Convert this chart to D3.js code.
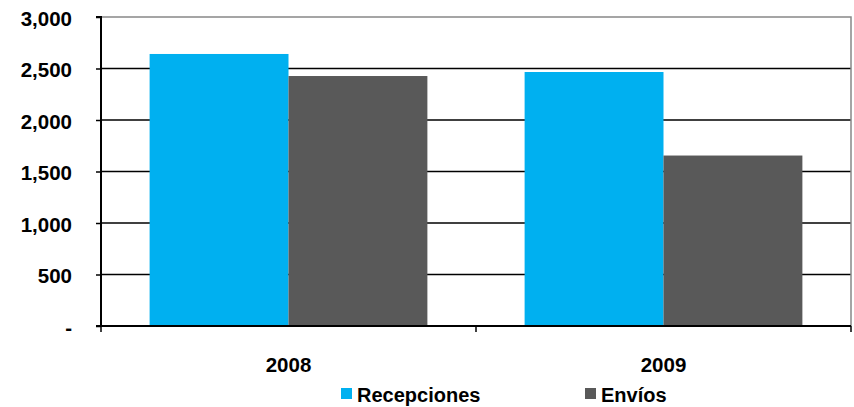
<!DOCTYPE html>
<html><head><meta charset="utf-8">
<script src="https://cdn.jsdelivr.net/npm/d3@7"></script>
<style>body{margin:0;background:#fff}svg text{font-family:"Liberation Sans",Arial,sans-serif;font-weight:bold;fill:#000}</style>
</head><body>
<svg id="c" width="854" height="407"></svg>
<script>
const categories = ["2008", "2009"];
const seriesNames = ["Recepciones", "Envíos"];
const recepciones = [2641, 2466];
const envios = [2427, 1655];
const yTicks = [0, 500, 1000, 1500, 2000, 2500, 3000];
const colors = ["#00B0F0", "#595959"];

const svg = d3.select("#c");
const L = 101, R = 851, T = 17, B = 326;
const x0 = d3.scaleBand().domain(categories).range([L, R]);
const x1 = d3.scaleBand().domain(seriesNames).range([0, x0.bandwidth()]).paddingOuter(0.35).paddingInner(0);
const y = d3.scaleLinear().domain([0, 3000]).range([B, T]);

// gridlines
svg.append("g").selectAll("line").data(yTicks.filter(d => d > 0 && d < 3000)).join("line")
  .attr("x1", L).attr("x2", R).attr("y1", d => y(d)).attr("y2", d => y(d))
  .attr("stroke", "#000").attr("stroke-width", 1.3);
// plot border top/right
svg.append("path").attr("d", `M${L},${y(3000)}H${R}V${B}`).attr("fill", "none").attr("stroke", "#888").attr("stroke-width", 1.5);

const data = categories.map((c, i) => ({c, vals: [recepciones[i], envios[i]]}));
const g = svg.append("g");
data.forEach(d => {
  d.vals.forEach((v, j) => {
    g.append("rect")
      .attr("x", x0(d.c) + x1(seriesNames[j]))
      .attr("width", x1.bandwidth())
      .attr("y", y(v)).attr("height", y(0) - y(v))
      .attr("fill", colors[j]);
  });
});

// y axis
const yAxis = d3.axisLeft(y).tickValues(yTicks).tickSize(5).tickPadding(24)
  .tickFormat(d => d === 0 ? "-" : d3.format(",")(d));
const ya = svg.append("g").attr("transform", `translate(${L},0)`).call(yAxis);
ya.select(".domain").attr("stroke", "#000").attr("stroke-width", 2).attr("d", `M-5,${T}H0V${B}H-5`);
ya.selectAll(".tick line").attr("stroke", "#000").attr("stroke-width", 1.5);
ya.selectAll(".tick text").attr("font-size", 20.5).attr("dy", "0.4em").style("font-family", null);

// x axis
const xa = svg.append("g").attr("transform", `translate(0,${B})`);
xa.append("line").attr("x1", L - 5).attr("x2", R).attr("y1", 0).attr("y2", 0).attr("stroke", "#000").attr("stroke-width", 2);
xa.selectAll(".xt").data([L, x0("2009"), R]).join("line")
  .attr("x1", d => d).attr("x2", d => d).attr("y1", 0).attr("y2", 6).attr("stroke", "#000").attr("stroke-width", 1.5);
xa.selectAll("text").data(categories).join("text")
  .attr("x", d => x0(d) + x0.bandwidth() / 2).attr("y", 46)
  .attr("text-anchor", "middle").attr("font-size", 20.5).text(d => d);

// legend
const legX = [341, 585];
const lg = svg.append("g");
seriesNames.forEach((s, i) => {
  lg.append("rect").attr("x", legX[i]).attr("y", 388).attr("width", 11).attr("height", 11).attr("fill", colors[i]);
  lg.append("text").attr("x", legX[i] + 16).attr("y", 402).attr("font-size", 20).text(s);
});
</script>
</body></html>
